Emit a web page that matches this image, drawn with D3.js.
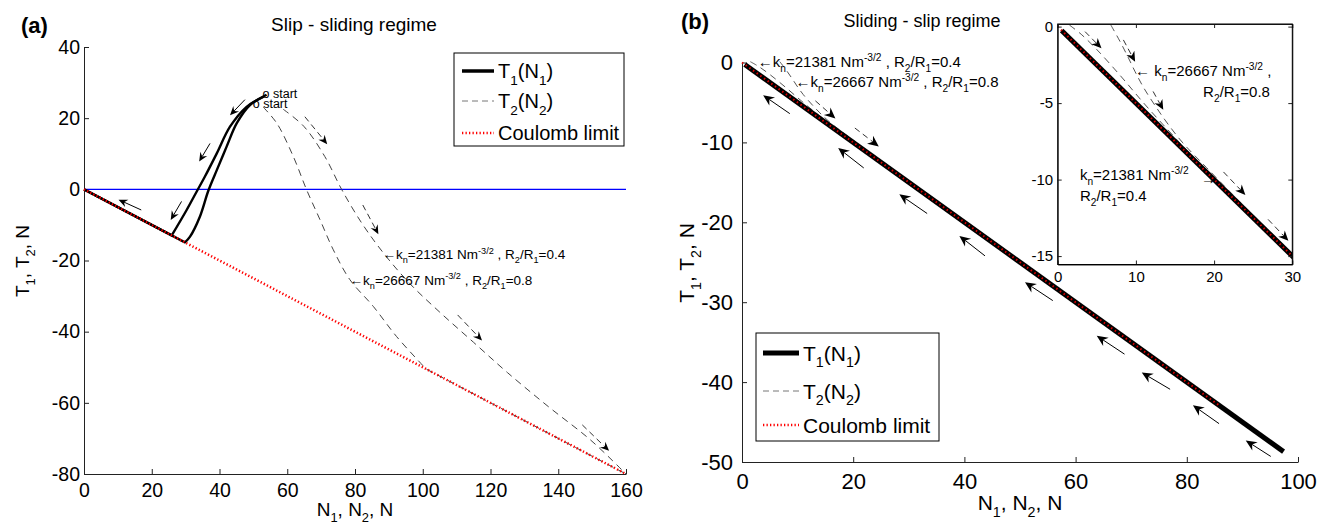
<!DOCTYPE html>
<html>
<head>
<meta charset="utf-8">
<script src="https://cdn.jsdelivr.net/npm/d3@7"></script>
<style>
  body { margin: 0; background: #fff; }
  svg { display: block; }
  text { font-family: "Liberation Sans", Arial, Helvetica, sans-serif; fill: #000; white-space: pre; }
</style>
</head>
<body>
<svg id="chart" width="1325" height="524"></svg>
<script>
// ---------------- panel (a): slip - sliding regime ----------------
const aXTicks = [0, 20, 40, 60, 80, 100, 120, 140, 160];
const aYTicks = [40, 20, 0, -20, -40, -60, -80];
const aCoulomb = [[0, 0], [160, -80]];
const aZero = [[0, 0], [160, 0]];
// T1(N1): loading branches from the start point down to the Coulomb line, then back to the origin
const aT1Upper = [[53.9, 26.6], [51.5, 25.3], [48, 23.2], [43.1, 17.6], [39.2, 10.1], [35.7, 3.6], [33.4, -0.4], [30.3, -5.8], [25.9, -12.95], [0, 0]];
const aT1Lower = [[53.2, 26.1], [49, 23.7], [45.1, 18.6], [42.1, 12.0], [39.2, 5.4], [36.7, -0.4], [34.2, -7.7], [31.3, -13.3], [29.8, -14.9], [0, 0]];
// T2(N2) for the two contact stiffnesses
const aT2k26667 = [[52.9, 23.1], [56.9, 18.6], [61.8, 9.2], [65.7, -0.1], [69.7, -8.6], [73.6, -17.0], [78.5, -25.4], [85.4, -32.9], [92.3, -41.4], [101, -50.5], [160, -80]];
const aT2k21381 = [[58.8, 22.5], [64.9, 17.7], [71.1, 9.2], [76.1, -0.1], [82, -9.5], [88.4, -17.9], [96.2, -26.5], [105, -34.5], [115, -43], [125, -51.5], [137, -61], [149.6, -70.5], [160, -80]];
// direction arrows [tail, tip]
const aArrowsT1 = [[[16.9, -5.8], [10.2, -2.9]], [[47.5, 25.2], [43.1, 20.8]], [[37.2, 12.9], [34.0, 7.8]], [[28.8, -3.4], [25.6, -8.6]]];
const aArrowsT2 = [[[65.2, 20.4], [71.8, 12.7]], [[82.3, -4.4], [86.9, -12.6]], [[110.3, -35.3], [117.5, -42.5]], [[147.1, -66.2], [155, -73.5]]];
const aStarts = [[53.9, 26.6], [51.0, 23.9]];
const aLabelTipK21381 = [88.4, -18.3];
const aLabelTipK26667 = [78.7, -25.5];

// ---------------- panel (b): sliding - slip regime ----------------
const bXTicks = [0, 20, 40, 60, 80, 100];
const bYTicks = [0, -10, -20, -30, -40, -50];
const bT1 = [[0.5, -0.25], [97.4, -48.7]];
const bCoulomb = [[0, 0], [86, -43]];
const bT2k21381 = [[1.5, 0.1], [3, -0.5], [5, -1.5], [8, -3.2], [11, -5.0], [14, -6.7], [17, -8.35], [20, -9.9], [25, -12.4], [30, -14.85], [97, -48.5]];
const bT2k26667 = [[6.8, 0.1], [8, -1.0], [9, -2.0], [9.9, -2.95], [11, -4.0], [12.5, -5.2], [14, -6.3], [16, -7.6], [19, -9.2], [23, -11.3], [30, -14.85], [97, -48.5]];
const bArrowsT1 = [[[8.6, -6.4], [3.8, -4.1]], [[21.9, -13.2], [17.3, -10.7]], [[33.3, -18.9], [28.3, -16.5]], [[43.7, -24.2], [39.1, -21.7]], [[55.9, -29.8], [50.9, -27.5]], [[68.8, -36.5], [63.8, -34.2]], [[77.0, -40.9], [71.9, -38.8]], [[85.8, -45.2], [81.1, -42.9]], [[95.1, -49.3], [90.6, -47.3]]];
const bArrowsT2 = [[[13.2, -4.8], [16.8, -7.0]], [[20.3, -8.2], [24.6, -10.5]]];
const bLabelTipK21381 = [3.2, 0];
const bLabelTipK26667 = [9.8, -2.6];

// ---------------- inset of (b): first 30 N ----------------
const iXTicks = [0, 10, 20, 30];
const iYTicks = [0, -5, -10, -15];
const iArrowsT2 = [[[3.5, -0.33], [5.6, -1.42]], [[8.4, -0.87], [9.9, -2.3]], [[12.2, -4.24], [13.5, -5.44]], [[21.2, -9.5], [24.0, -11.0]], [[26.9, -12.6], [29.5, -14.0]]];
const iLabelTipK26667 = [9.9, -2.95];
const iLabelTipK21381 = [20.1, -10];

// text pieces: [string, 'sub' | 'sup' | undefined]
const lblK21381 = [["←k"], ["n", "sub"], ["=21381 Nm"], ["-3/2", "sup"], [" , R"], ["2", "sub"], ["/R"], ["1", "sub"], ["=0.4"]];
const lblK26667 = [["←k"], ["n", "sub"], ["=26667 Nm"], ["-3/2", "sup"], [" , R"], ["2", "sub"], ["/R"], ["1", "sub"], ["=0.8"]];
const lblInK26667a = [["← k"], ["n", "sub"], ["=26667 Nm"], ["-3/2", "sup"], [" ,"]];
const lblInK26667b = [["R"], ["2", "sub"], ["/R"], ["1", "sub"], ["=0.8"]];
const lblInK21381a = [["k"], ["n", "sub"], ["=21381 Nm"], ["-3/2", "sup"]];
const lblInK21381b = [["R"], ["2", "sub"], ["/R"], ["1", "sub"], ["=0.4"]];
const xTitle = [["N"], ["1", "sub"], [", N"], ["2", "sub"], [", N"]];
const yTitle = [["T"], ["1", "sub"], [", T"], ["2", "sub"], [", N"]];
const legT1 = [["T"], ["1", "sub"], ["(N"], ["1", "sub"], [")"]];
const legT2 = [["T"], ["2", "sub"], ["(N"], ["2", "sub"], [")"]];
const legC = [["Coulomb limit"]];

const svg = d3.select("#chart");

function richText(g, x, y, parts, size, opts = {}) {
  const t = g.append("text").attr("x", x).attr("y", y).attr("font-size", size);
  if (opts.anchor) t.attr("text-anchor", opts.anchor);
  if (opts.transform) t.attr("transform", opts.transform);
  let shift = 0;
  parts.forEach(([s, kind]) => {
    const target = kind === "sub" ? size * 0.33 : kind === "sup" ? -size * 0.4 : 0;
    t.append("tspan").text(s)
      .attr("dy", (target - shift).toFixed(2))
      .attr("font-size", kind ? size * 0.68 : size);
    shift = target;
  });
  return t;
}

function arrow(g, sx, sy, tail, tip, o) {
  const x1 = sx(tail[0]), y1 = sy(tail[1]), x2 = sx(tip[0]), y2 = sy(tip[1]);
  const a = Math.atan2(y2 - y1, x2 - x1);
  const c = Math.cos(a), s = Math.sin(a);
  const nx = x2 - c * (o.head - o.notch), ny = y2 - s * (o.head - o.notch);
  const bx = x2 - c * o.head, by = y2 - s * o.head;
  const ln = g.append("line").attr("x1", x1).attr("y1", y1).attr("x2", nx).attr("y2", ny)
    .attr("stroke", o.color || "#000").attr("stroke-width", o.width || 1);
  if (o.dash) ln.attr("stroke-dasharray", o.dash);
  g.append("polygon")
    .attr("points", [[x2, y2], [bx - s * o.hw, by + c * o.hw], [nx, ny], [bx + s * o.hw, by - c * o.hw]].map(p => p.join(",")).join(" "))
    .attr("fill", "#000");
}

// curve through all points but the last, then a straight run to the last point
function curveThenStraight(sx, sy, pts) {
  const head = d3.line().x(d => sx(d[0])).y(d => sy(d[1])).curve(d3.curveCatmullRom.alpha(0.5))(pts.slice(0, -1));
  const last = pts[pts.length - 1];
  return head + "L" + sx(last[0]) + "," + sy(last[1]);
}
function curved(sx, sy, pts) {
  return d3.line().x(d => sx(d[0])).y(d => sy(d[1])).curve(d3.curveCatmullRom.alpha(0.5))(pts);
}
function straight(sx, sy, pts) {
  return d3.line().x(d => sx(d[0])).y(d => sy(d[1]))(pts);
}

function styleAxis(g, size) {
  g.selectAll(".domain").attr("stroke", "#222").attr("stroke-width", 1);
  g.selectAll(".tick line").attr("stroke", "#222");
  g.selectAll(".tick text").attr("font-size", size).attr("font-family", '"Liberation Sans", Arial, sans-serif').attr("fill", "#000");
}

function legend(g, x0, y0, x1, y1, rows, size, samples) {
  g.append("rect").attr("x", x0).attr("y", y0).attr("width", x1 - x0).attr("height", y1 - y0)
    .attr("fill", "#fff").attr("stroke", "#000").attr("stroke-width", 1);
  rows.forEach((r, i) => {
    const st = samples[i];
    const ln = g.append("line").attr("x1", st.lx0).attr("x2", st.lx1).attr("y1", r.y).attr("y2", r.y)
      .attr("stroke", st.color).attr("stroke-width", st.width);
    if (st.dash) ln.attr("stroke-dasharray", st.dash);
    richText(g, st.tx, r.y + size * 0.36, r.parts, size);
  });
}

// ================= panel (a) =================
{
  const sx = d3.scaleLinear().domain([0, 160]).range([84, 626]);
  const sy = d3.scaleLinear().domain([-80, 40]).range([474, 47]);
  const g = svg.append("g");

  g.append("text").attr("x", 21).attr("y", 33).attr("font-size", 22)
    .attr("font-family", '"Liberation Serif", "Times New Roman", serif').attr("font-weight", "bold").text("(a)");
  g.append("text").attr("x", 354).attr("y", 31).attr("text-anchor", "middle").attr("font-size", 19).text("Slip - sliding regime");

  const gx = g.append("g").attr("transform", `translate(0,${sy(-80)})`)
    .call(d3.axisBottom(sx).tickValues(aXTicks).tickSize(-5).tickSizeOuter(0).tickPadding(9).tickFormat(d => String(d)));
  styleAxis(gx, 19.5);
  const gy = g.append("g").attr("transform", `translate(${sx(0)},0)`)
    .call(d3.axisLeft(sy).tickValues(aYTicks).tickSize(-5).tickSizeOuter(0).tickPadding(4).tickFormat(d => String(d)));
  styleAxis(gy, 19.5);

  richText(g, 355, 516, xTitle, 19, { anchor: "middle" });
  richText(g, 0, 0, yTitle, 19, { anchor: "middle", transform: `translate(29,261) rotate(-90)` });

  // zero line
  g.append("path").attr("d", straight(sx, sy, aZero)).attr("stroke", "#0000ff").attr("stroke-width", 1.4).attr("fill", "none");

  // T2 curves
  g.append("path").attr("d", curveThenStraight(sx, sy, aT2k26667)).attr("fill", "none")
    .attr("stroke", "#444").attr("stroke-width", 1).attr("stroke-dasharray", "7,5");
  g.append("path").attr("d", curved(sx, sy, aT2k21381)).attr("fill", "none")
    .attr("stroke", "#444").attr("stroke-width", 1).attr("stroke-dasharray", "7,5");

  // T1 curves
  [aT1Upper, aT1Lower].forEach(pts => {
    g.append("path").attr("d", curveThenStraight(sx, sy, pts)).attr("fill", "none")
      .attr("stroke", "#000").attr("stroke-width", 2.4).attr("stroke-linejoin", "round");
  });

  // Coulomb limit
  g.append("path").attr("d", straight(sx, sy, aCoulomb)).attr("fill", "none")
    .attr("stroke", "#ff0000").attr("stroke-width", 2.5).attr("stroke-dasharray", "1.3,2.2");

  aArrowsT1.forEach(([t, p]) => arrow(g, sx, sy, t, p, { head: 9, hw: 4, notch: 3, width: 1 }));
  aArrowsT2.forEach(([t, p]) => arrow(g, sx, sy, t, p, { head: 9, hw: 4, notch: 3, width: 1, dash: "6,4", color: "#333" }));

  aStarts.forEach(p => {
    g.append("text").attr("x", sx(p[0]) - 4).attr("y", sy(p[1]) + 3.6).attr("font-size", 12.5).text("o start");
  });
  richText(g, sx(aLabelTipK21381[0]) - 1, sy(aLabelTipK21381[1]) + 4.5, lblK21381, 13.5);
  richText(g, sx(aLabelTipK26667[0]) - 1, sy(aLabelTipK26667[1]) + 4.5, lblK26667, 13.5);

  legend(g, 454, 53, 624, 146, [
    { y: 71, parts: legT1 }, { y: 101, parts: legT2 }, { y: 133, parts: legC }
  ], 20, [
    { lx0: 462, lx1: 494, tx: 498, color: "#000", width: 3.5 },
    { lx0: 462, lx1: 494, tx: 498, color: "#777", width: 1, dash: "6,4" },
    { lx0: 462, lx1: 494, tx: 498, color: "#ff0000", width: 2.5, dash: "1.3,2.2" }
  ]);
}

// ================= panel (b) =================
{
  const sx = d3.scaleLinear().domain([0, 100]).range([742, 1298]);
  const sy = d3.scaleLinear().domain([-50, 0]).range([462, 62.5]);
  const g = svg.append("g");

  g.append("text").attr("x", 681).attr("y", 29).attr("font-size", 22)
    .attr("font-family", '"Liberation Serif", "Times New Roman", serif').attr("font-weight", "bold").text("(b)");
  g.append("text").attr("x", 922).attr("y", 27).attr("text-anchor", "middle").attr("font-size", 18).text("Sliding - slip regime");

  const gx = g.append("g").attr("transform", `translate(0,${sy(-50)})`)
    .call(d3.axisBottom(sx).tickValues(bXTicks).tickSize(-5).tickSizeOuter(0).tickPadding(11).tickFormat(d => String(d)));
  styleAxis(gx, 22);
  const gy = g.append("g").attr("transform", `translate(${sx(0)},0)`)
    .call(d3.axisLeft(sy).tickValues(bYTicks).tickSize(-5).tickSizeOuter(0).tickPadding(9).tickFormat(d => String(d)));
  styleAxis(gy, 22);

  richText(g, 1020, 510, xTitle, 21, { anchor: "middle" });
  richText(g, 0, 0, yTitle, 21, { anchor: "middle", transform: `translate(694,263) rotate(-90)` });

  [bT2k21381, bT2k26667].forEach(pts => {
    g.append("path").attr("d", curveThenStraight(sx, sy, pts)).attr("fill", "none")
      .attr("stroke", "#555").attr("stroke-width", 1).attr("stroke-dasharray", "7,5");
  });
  g.append("path").attr("d", straight(sx, sy, bT1)).attr("fill", "none").attr("stroke", "#000").attr("stroke-width", 5);
  g.append("path").attr("d", straight(sx, sy, bCoulomb)).attr("fill", "none")
    .attr("stroke", "#e00000").attr("stroke-width", 2).attr("stroke-dasharray", "1.5,3");

  bArrowsT1.forEach(([t, p]) => arrow(g, sx, sy, t, p, { head: 11, hw: 5, notch: 3.5, width: 1 }));
  bArrowsT2.forEach(([t, p]) => arrow(g, sx, sy, t, p, { head: 11, hw: 5, notch: 3.5, width: 1, dash: "6,4", color: "#333" }));

  richText(g, sx(bLabelTipK21381[0]) - 2, sy(bLabelTipK21381[1]) + 4.5, lblK21381, 15);
  richText(g, sx(bLabelTipK26667[0]) - 1, sy(bLabelTipK26667[1]) + 4, lblK26667, 15);

  legend(g, 756, 333, 939, 441, [
    { y: 353, parts: legT1 }, { y: 391, parts: legT2 }, { y: 425, parts: legC }
  ], 21, [
    { lx0: 763, lx1: 799, tx: 803, color: "#000", width: 5 },
    { lx0: 763, lx1: 799, tx: 803, color: "#777", width: 1, dash: "6,4" },
    { lx0: 763, lx1: 799, tx: 803, color: "#ff0000", width: 2.5, dash: "1.3,2.2" }
  ]);
}

// ================= inset =================
{
  const sx = d3.scaleLinear().domain([0, 30]).range([1057.7, 1292.3]);
  const sy = d3.scaleLinear().domain([-15.55, 0.17]).range([264.5, 24]);
  const g = svg.append("g");
  const [x0, x1] = sx.range(), [y0, y1] = sy.range();

  g.append("rect").attr("x", x0).attr("y", y1).attr("width", x1 - x0).attr("height", y0 - y1).attr("fill", "#fff");
  g.append("clipPath").attr("id", "insetClip").append("rect")
    .attr("x", x0).attr("y", y1).attr("width", x1 - x0).attr("height", y0 - y1);
  const gc = g.append("g").attr("clip-path", "url(#insetClip)");

  [bT2k21381, bT2k26667].forEach(pts => {
    gc.append("path").attr("d", curveThenStraight(sx, sy, pts)).attr("fill", "none")
      .attr("stroke", "#555").attr("stroke-width", 1).attr("stroke-dasharray", "7,5");
  });
  gc.append("path").attr("d", straight(sx, sy, bT1)).attr("fill", "none").attr("stroke", "#000").attr("stroke-width", 5);
  gc.append("path").attr("d", straight(sx, sy, bCoulomb)).attr("fill", "none")
    .attr("stroke", "#e00000").attr("stroke-width", 2).attr("stroke-dasharray", "1.5,3");
  iArrowsT2.forEach(([t, p]) => arrow(gc, sx, sy, t, p, { head: 10, hw: 4.5, notch: 3, width: 1, dash: "6,4", color: "#333" }));

  const ax = g.append("g").attr("transform", `translate(0,${y0})`)
    .call(d3.axisBottom(sx).tickValues(iXTicks).tickSize(-4).tickSizeOuter(0).tickPadding(7).tickFormat(d => String(d)));
  styleAxis(ax, 15);
  const ay = g.append("g").attr("transform", `translate(${x0},0)`)
    .call(d3.axisLeft(sy).tickValues(iYTicks).tickSize(-4).tickSizeOuter(0).tickPadding(4.5).tickFormat(d => String(d)));
  styleAxis(ay, 15);
  const at = g.append("g").attr("transform", `translate(0,${y1})`)
    .call(d3.axisTop(sx).tickValues(iXTicks).tickSize(-4).tickSizeOuter(0).tickFormat(""));
  styleAxis(at, 15);
  const ar = g.append("g").attr("transform", `translate(${x1},0)`)
    .call(d3.axisRight(sy).tickValues(iYTicks).tickSize(-4).tickSizeOuter(0).tickFormat(""));
  styleAxis(ar, 15);
  g.append("rect").attr("x", x0).attr("y", y1).attr("width", x1 - x0).attr("height", y0 - y1)
    .attr("fill", "none").attr("stroke", "#000").attr("stroke-width", 1);

  const tk = [sx(iLabelTipK26667[0]), sy(iLabelTipK26667[1])];
  richText(g, tk[0], tk[1] + 4.5, lblInK26667a, 15);
  richText(g, tk[0] + 68, tk[1] + 25, lblInK26667b, 15);
  const tj = [sx(iLabelTipK21381[0]), sy(iLabelTipK21381[1])];
  richText(g, tj[0] - 135, tj[1] + 0.5, lblInK21381a, 15);
  richText(g, tj[0] - 135, tj[1] + 21, lblInK21381b, 15);
  g.append("text").attr("x", tj[0] + 1).attr("y", tj[1] + 4.5).attr("text-anchor", "end").attr("font-size", 15).text("→");
}
</script>
</body>
</html>
